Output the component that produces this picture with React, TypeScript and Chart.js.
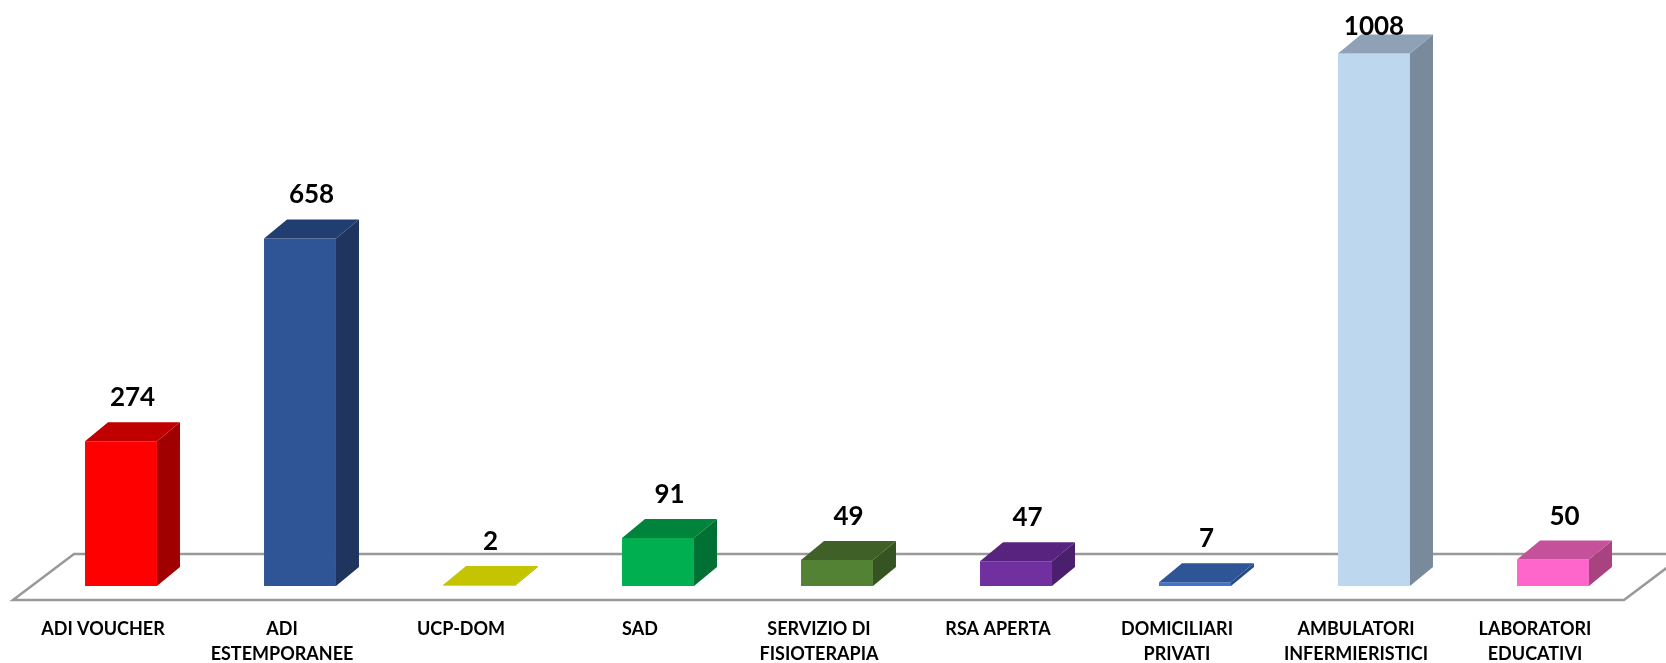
import React, { useEffect, useRef } from "react";
import { Chart, registerables } from "chart.js";

Chart.register(...registerables);

const categories: string[][] = [
  ["ADI VOUCHER"],
  ["ADI", "ESTEMPORANEE"],
  ["UCP-DOM"],
  ["SAD"],
  ["SERVIZIO DI", "FISIOTERAPIA"],
  ["RSA APERTA"],
  ["DOMICILIARI", "PRIVATI"],
  ["AMBULATORI", "INFERMIERISTICI"],
  ["LABORATORI", "EDUCATIVI"],
];
const values: number[] = [274, 658, 2, 91, 49, 47, 7, 1008, 50];

const frontColors = ["#FF0000", "#2F5597", "#E0E000", "#00B050", "#548235", "#7030A0", "#4472C4", "#BDD7EE", "#FF66CC"];
const topColors = ["#C00000", "#203E70", "#C4C400", "#00843C", "#3F6128", "#57237F", "#2F5597", "#8FA2B5", "#C4519A"];
const sideColors = ["#A00000", "#1F3560", "#A8A800", "#007033", "#365421", "#4A1F6E", "#264A85", "#788A9B", "#A8437F"];

const DX = 23;
const DY = -19;

const floorPlugin = {
  id: "floor3d",
  beforeDatasetsDraw(chart: any) {
    const { ctx, scales } = chart;
    const xs = scales.x;
    const base = scales.y.getPixelForValue(0);
    const fy = base + 14;
    const by = base - 32;
    const fl = xs.left - 18.5;
    const fr = xs.right - 18.5;
    ctx.save();
    ctx.beginPath();
    ctx.moveTo(fl, fy);
    ctx.lineTo(fr, fy);
    ctx.lineTo(fr + 61, by);
    ctx.lineTo(fl + 61, by);
    ctx.closePath();
    ctx.fillStyle = "#ffffff";
    ctx.fill();
    ctx.strokeStyle = "#999999";
    ctx.lineWidth = 2.5;
    ctx.stroke();
    ctx.restore();
  },
};

const bar3dPlugin = {
  id: "bar3d",
  afterDatasetsDraw(chart: any) {
    const { ctx } = chart;
    const meta = chart.getDatasetMeta(0);
    ctx.save();
    meta.data.forEach((el: any, i: number) => {
      const p = el.getProps(["x", "y", "base", "width"], true);
      const l = p.x - p.width / 2;
      const r = p.x + p.width / 2;
      ctx.beginPath();
      ctx.moveTo(r, p.y);
      ctx.lineTo(r + DX, p.y + DY);
      ctx.lineTo(r + DX, p.base + DY);
      ctx.lineTo(r, p.base);
      ctx.closePath();
      ctx.fillStyle = sideColors[i];
      ctx.fill();
      ctx.beginPath();
      ctx.moveTo(l, p.y);
      ctx.lineTo(r, p.y);
      ctx.lineTo(r + DX, p.y + DY);
      ctx.lineTo(l + DX, p.y + DY);
      ctx.closePath();
      ctx.fillStyle = topColors[i];
      ctx.fill();
    });
    ctx.font = "bold 26px Lato";
    ctx.fillStyle = "#000000";
    ctx.textAlign = "center";
    ctx.textBaseline = "alphabetic";
    meta.data.forEach((el: any, i: number) => {
      const p = el.getProps(["x", "y"], true);
      let y = p.y + DY - 16;
      let x = p.x + DX / 2;
      if (y - 19 < 15) {
        y = 35;
        x = p.x;
      }
      ctx.fillText(String(values[i]), x, y);
    });
    ctx.restore();
  },
};

export default function App() {
  const ref = useRef<HTMLCanvasElement | null>(null);
  useEffect(() => {
    if (!ref.current) return;
    const chart = new Chart(ref.current, {
      type: "bar",
      data: {
        labels: categories as any,
        datasets: [
          {
            data: values,
            backgroundColor: frontColors,
            borderWidth: 0,
            barPercentage: 0.402,
            categoryPercentage: 1,
          },
        ],
      },
      options: {
        responsive: false,
        animation: false,
        layout: { padding: { top: 5, left: 31.5, right: 23.5, bottom: 0 } },
        plugins: { legend: { display: false }, tooltip: { enabled: false } },
        scales: {
          y: { display: false, min: 0, max: 1100 },
          x: {
            display: true,
            grid: { display: false, drawTicks: false },
            border: { display: false },
            afterFit: (scale: any) => {
              scale.height = 77;
            },
            ticks: {
              autoSkip: false,
              maxRotation: 0,
              minRotation: 0,
              labelOffset: -18,
              padding: 31,
              color: "#000000",
              font: { family: "Lato", weight: "bold", size: 18, lineHeight: 1.39 },
            },
          },
        },
      },
      plugins: [floorPlugin, bar3dPlugin],
    });
    return () => chart.destroy();
  }, []);
  return (
    <div style={{ position: "absolute", left: 0, top: 0, width: 1666, height: 663, background: "#fff" }}>
      <canvas ref={ref} width={1666} height={663} style={{ display: "block" }} />
    </div>
  );
}
